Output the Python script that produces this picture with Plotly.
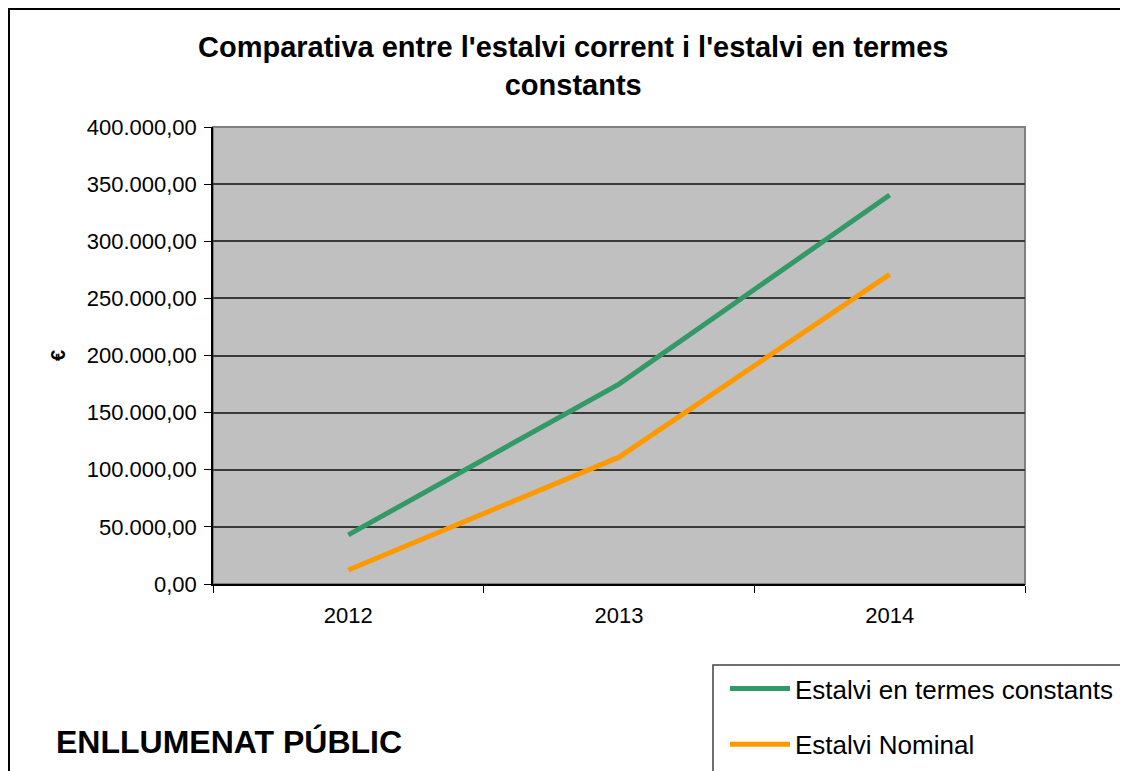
import plotly.graph_objects as go

years = ["2012", "2013", "2014"]
estalvi_constants = [43000, 175000, 340500]
estalvi_nominal = [12300, 111000, 271000]
series_names = ["Estalvi en termes constants", "Estalvi Nominal"]
y_ticks = [0, 50000, 100000, 150000, 200000, 250000, 300000, 350000, 400000]

# page body has an 8px margin: figure starts at screen (8, 8)
OFF = 8
W, H = 1128 - OFF, 771 - OFF
L, R, T, B = 213, 1025, 127, 584  # plot area in screen pixels


def px(x):
    return (x - L) / (R - L)


def py(y):
    return (B - y) / (B - T)


fig = go.Figure()
fig.add_trace(go.Scatter(x=years, y=estalvi_constants, mode="lines", name=series_names[0],
                         line=dict(color="#339966", width=5), legendgroup="a"))
fig.add_trace(go.Scatter(x=years, y=estalvi_nominal, mode="lines", name=series_names[1],
                         line=dict(color="#FF9900", width=5), legendgroup="b"))

font = "Liberation Sans, Arial, sans-serif"

fig.update_layout(
    width=W, height=H,
    margin=dict(l=L - OFF, r=W - (R - OFF), t=T - OFF, b=H - (B - OFF), autoexpand=False),
    paper_bgcolor="white",
    plot_bgcolor="#C0C0C0",
    separators=",.",
    font=dict(family=font, color="black", size=22),
    showlegend=True,
    legend=dict(x=px(725), y=py(665), xanchor="left", yanchor="top",
                bgcolor="rgba(0,0,0,0)", borderwidth=0,
                font=dict(family=font, size=26, color="black"),
                tracegroupgap=19, itemwidth=60),
    xaxis=dict(type="category", range=[-0.5, 2.5], showgrid=False,
               showline=True, linecolor="black", linewidth=1.5,
               ticks="outside", tickson="boundaries", ticklen=7, tickcolor="black",
               tickfont=dict(size=22), ticklabelstandoff=11, zeroline=False),
    yaxis=dict(range=[0, 400000], tickvals=y_ticks, tickformat=",.2f",
               showgrid=True, gridcolor="#3a3a3a", gridwidth=1.5,
               showline=True, linecolor="black", linewidth=1.5,
               ticks="outside", ticklen=7, tickcolor="black",
               tickfont=dict(size=22), ticklabelstandoff=3, zeroline=False),
    shapes=[
        dict(type="rect", xref="paper", yref="paper", x0=0, x1=1, y0=0, y1=1,
             line=dict(color="#808080", width=2), layer="below"),
        dict(type="rect", xref="paper", yref="paper", x0=px(9), x1=px(1140), y0=py(790), y1=py(9),
             line=dict(color="black", width=2)),
        dict(type="rect", xref="paper", yref="paper", x0=px(713), x1=px(1140), y0=py(790), y1=py(665),
             line=dict(color="#404040", width=1.5)),
    ],
    annotations=[
        dict(text="Comparativa entre l'estalvi corrent i l'estalvi en termes<br>constants",
             xref="paper", yref="paper", x=px(573), y=py(65.5), showarrow=False,
             xanchor="center", yanchor="middle",
             font=dict(family=font, size=29, weight="bold", color="black")),
        dict(text="€", xref="paper", yref="paper", x=px(58), y=py(356), textangle=-90,
             showarrow=False, xanchor="center", yanchor="middle",
             font=dict(family=font, size=20, weight="bold", color="black")),
        dict(text="ENLLUMENAT PÚBLIC", xref="paper", yref="paper", x=px(54), y=py(742),
             showarrow=False, xanchor="left", yanchor="middle",
             font=dict(family=font, size=32, weight="bold", color="black")),
    ],
)

fig.write_html("out.html")
